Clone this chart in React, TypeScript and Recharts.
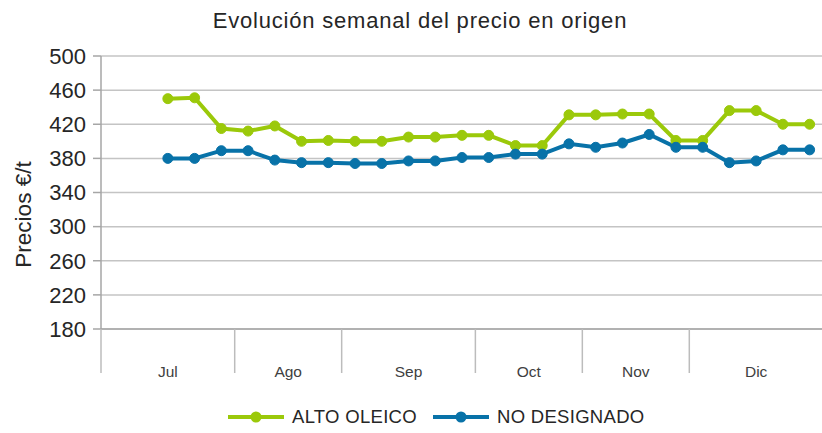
import React from 'react';
import { LineChart, Line, XAxis, YAxis, CartesianGrid, Label } from 'recharts';

const TITLE = 'Evolución semanal del precio en origen';
const Y_LABEL = 'Precios €/t';
const MONTHS = ['Jul', 'Ago', 'Sep', 'Oct', 'Nov', 'Dic'];
const WEEKS_PER_MONTH = [5, 4, 5, 4, 4, 5];
const FIRST_DATA_WEEK = 2;
const Y_TICKS = [180, 220, 260, 300, 340, 380, 420, 460, 500];
const SERIES_NAMES = ['ALTO OLEICO', 'NO DESIGNADO'];
const ALTO_OLEICO = [450, 451, 415, 412, 418, 400, 401, 400, 400, 405, 405, 407, 407, 395, 395, 431, 431, 432, 432, 401, 401, 436, 436, 420, 420];
const NO_DESIGNADO = [380, 380, 389, 389, 378, 375, 375, 374, 374, 377, 377, 381, 381, 385, 385, 397, 393, 398, 408, 393, 393, 375, 377, 390, 390];

const GREEN = '#9BC90A';
const BLUE = '#0872A8';
const FONT = "'Liberation Sans', Arial, sans-serif";

const TOTAL_WEEKS = WEEKS_PER_MONTH.reduce((a, b) => a + b, 0);
const BOUNDARIES: number[] = [0];
const CENTERS: number[] = [];
WEEKS_PER_MONTH.forEach((w) => {
  const start = BOUNDARIES[BOUNDARIES.length - 1];
  CENTERS.push(start + w / 2);
  BOUNDARIES.push(start + w);
});
const X_TICKS = [...BOUNDARIES, ...CENTERS].sort((a, b) => a - b);

const data = ALTO_OLEICO.map((v, i) => ({
  pos: FIRST_DATA_WEEK + i + 0.5,
  alto: v,
  nodes: NO_DESIGNADO[i],
}));

const MonthTick = (props: any) => {
  const { x, y, payload } = props;
  const v = payload.value;
  const bi = BOUNDARIES.indexOf(v);
  if (bi >= 0) {
    return <line x1={x} x2={x} y1={y} y2={y + 44} stroke="#bcbcbc" strokeWidth={1.5} />;
  }
  const ci = CENTERS.indexOf(v);
  return (
    <text x={x} y={y + 44} textAnchor="middle" dominantBaseline="middle" fontSize={15.5} fill="#404040" fontFamily={FONT}>
      {MONTHS[ci]}
    </text>
  );
};

const YLabel = (props: any) => {
  const vb = props.viewBox || {};
  const cx = 25;
  const cy = vb.y + vb.height / 2 + 22;
  return (
    <text x={cx} y={cy} transform={`rotate(-90, ${cx}, ${cy})`} textAnchor="middle" dominantBaseline="middle" fontSize={22.5} fill="#262626" fontFamily={FONT}>
      {Y_LABEL}
    </text>
  );
};

const LegendItem = ({ color, name }: { color: string; name: string }) => (
  <div style={{ display: 'flex', alignItems: 'center', marginRight: 16 }}>
    <svg width={56} height={14} style={{ marginRight: 8 }}>
      <line x1={0} x2={56} y1={7} y2={7} stroke={color} strokeWidth={4} />
      <circle cx={28} cy={7} r={5.5} fill={color} />
    </svg>
    <span style={{ fontSize: 18.5, color: '#262626', fontFamily: FONT, letterSpacing: 0.3 }}>{name}</span>
  </div>
);

export default function App() {
  return (
    <div style={{ position: 'absolute', left: 0, top: 0, width: 822, height: 433, overflow: 'hidden', background: '#fff', fontFamily: FONT }}>
      <div style={{ position: 'absolute', left: 0, width: 840, top: 8, textAlign: 'center', fontSize: 22, letterSpacing: 0.8, color: '#262626', whiteSpace: 'nowrap' }}>
        {TITLE}
      </div>
      <LineChart width={830} height={433} data={data} margin={{ top: 56, right: 7, left: 0, bottom: 60 }}>
        <CartesianGrid horizontal vertical={false} stroke="#c4c4c4" strokeWidth={1.5} />
        <XAxis
          dataKey="pos"
          type="number"
          domain={[0, TOTAL_WEEKS]}
          ticks={X_TICKS}
          interval={0}
          tickSize={0}
          tickMargin={0}
          height={44}
          tick={<MonthTick />}
          axisLine={{ stroke: '#a6a6a6', strokeWidth: 1.5 }}
          tickLine={false}
        />
        <YAxis
          type="number"
          domain={[180, 500]}
          ticks={Y_TICKS}
          interval={0}
          width={101}
          tickSize={8}
          tickMargin={7}
          axisLine={{ stroke: '#a6a6a6', strokeWidth: 1.5 }}
          tickLine={{ stroke: '#a6a6a6', strokeWidth: 1.5 }}
          tick={{ fontSize: 22, fill: '#262626', fontFamily: FONT }}
        >
          <Label content={<YLabel />} />
        </YAxis>
        <Line dataKey="alto" stroke={GREEN} strokeWidth={4} dot={{ r: 5, fill: GREEN, stroke: GREEN, strokeWidth: 1 }} isAnimationActive={false} />
        <Line dataKey="nodes" stroke={BLUE} strokeWidth={4} dot={{ r: 5, fill: BLUE, stroke: BLUE, strokeWidth: 1 }} isAnimationActive={false} />
      </LineChart>
      <div style={{ position: 'absolute', left: 228, top: 406, display: 'flex', alignItems: 'center', height: 22 }}>
        <LegendItem color={GREEN} name={SERIES_NAMES[0]} />
        <LegendItem color={BLUE} name={SERIES_NAMES[1]} />
      </div>
    </div>
  );
}
